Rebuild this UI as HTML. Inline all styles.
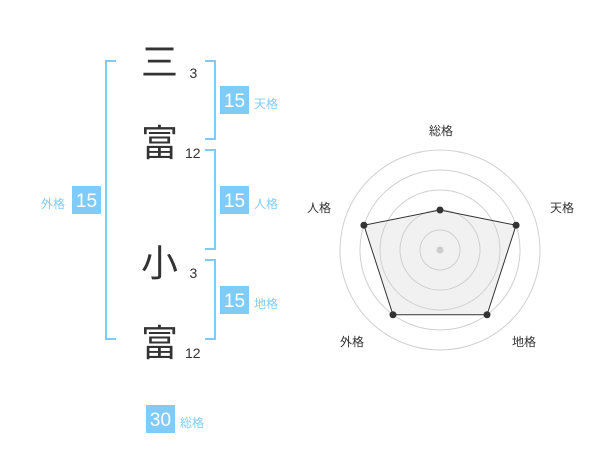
<!DOCTYPE html>
<html>
<head>
<meta charset="utf-8">
<style>
html,body{margin:0;padding:0;background:#fff;}
svg{display:block;}
.k{font-family:"Noto Sans CJK JP","Liberation Sans",sans-serif;font-size:37px;fill:#333;}
.n{font-family:"Liberation Sans",sans-serif;font-size:14px;fill:#333;}
.b{font-family:"Liberation Sans",sans-serif;font-size:19px;fill:#fff;}
.l{font-family:"Liberation Sans","Noto Sans CJK JP",sans-serif;font-size:12px;fill:#80ccf8;}
.r{font-family:"Liberation Sans","Noto Sans CJK JP",sans-serif;font-size:12px;fill:#333;}
</style>
</head>
<body>
<svg width="600" height="470" viewBox="0 0 600 470" xmlns="http://www.w3.org/2000/svg">
  <!-- brackets -->
  <g fill="none" stroke="#80ccf8" stroke-width="2">
    <polyline points="116,61 106,61 106,339 116,339"/>
    <polyline points="205,61 215,61 215,139 205,139"/>
    <polyline points="205,150 215,150 215,249 205,249"/>
    <polyline points="205,260 215,260 215,339 205,339"/>
  </g>
  <!-- kanji -->
  <text class="k" x="159.5" y="59" text-anchor="middle" dominant-baseline="central">三</text>
  <text class="k" x="159.5" y="140" text-anchor="middle" dominant-baseline="central">富</text>
  <text class="k" x="159.5" y="260" text-anchor="middle" dominant-baseline="central">小</text>
  <text class="k" x="159.5" y="340" text-anchor="middle" dominant-baseline="central">富</text>
  <!-- stroke counts -->
  <text class="n" x="189.5" y="78">3</text>
  <text class="n" x="185" y="158">12</text>
  <text class="n" x="189.5" y="278">3</text>
  <text class="n" x="185" y="358">12</text>
  <!-- badges -->
  <g fill="#80ccf8">
    <rect x="220" y="86" width="29" height="28"/>
    <rect x="220" y="186" width="29" height="28"/>
    <rect x="220" y="286" width="29" height="28"/>
    <rect x="72" y="186" width="29" height="28"/>
    <rect x="146" y="405" width="29" height="28"/>
  </g>
  <text class="b" x="234.5" y="107" text-anchor="middle">15</text>
  <text class="b" x="234.5" y="207" text-anchor="middle">15</text>
  <text class="b" x="234.5" y="307" text-anchor="middle">15</text>
  <text class="b" x="86.5" y="207" text-anchor="middle">15</text>
  <text class="b" x="160.5" y="426" text-anchor="middle">30</text>
  <text class="l" x="254" y="104" dominant-baseline="central">天格</text>
  <text class="l" x="254" y="204" dominant-baseline="central">人格</text>
  <text class="l" x="254" y="304" dominant-baseline="central">地格</text>
  <text class="l" x="41" y="204" dominant-baseline="central">外格</text>
  <text class="l" x="180" y="423" dominant-baseline="central">総格</text>

  <!-- radar -->
  <polygon points="440,210 516.08,225.28 487.02,314.72 392.98,314.72 363.92,225.28" fill="#f1f1f1" stroke="none"/>
  <g fill="none" stroke="#d0d0d0" stroke-width="1">
    <circle cx="440" cy="250" r="20"/>
    <circle cx="440" cy="250" r="40"/>
    <circle cx="440" cy="250" r="60"/>
    <circle cx="440" cy="250" r="80"/>
    <circle cx="440" cy="250" r="100"/>
  </g>
  <circle cx="440" cy="250" r="3.5" fill="#cccccc"/>
  <polygon points="440,210 516.08,225.28 487.02,314.72 392.98,314.72 363.92,225.28" fill="none" stroke="#333" stroke-width="1"/>
  <g fill="#333">
    <circle cx="440" cy="210" r="3.5"/>
    <circle cx="516.08" cy="225.28" r="3.5"/>
    <circle cx="487.02" cy="314.72" r="3.5"/>
    <circle cx="392.98" cy="314.72" r="3.5"/>
    <circle cx="363.92" cy="225.28" r="3.5"/>
  </g>
  <text class="r" x="441" y="131" text-anchor="middle" dominant-baseline="central">総格</text>
  <text class="r" x="562" y="208" text-anchor="middle" dominant-baseline="central">天格</text>
  <text class="r" x="524" y="342" text-anchor="middle" dominant-baseline="central">地格</text>
  <text class="r" x="352" y="342" text-anchor="middle" dominant-baseline="central">外格</text>
  <text class="r" x="319" y="208" text-anchor="middle" dominant-baseline="central">人格</text>
</svg>
</body>
</html>
